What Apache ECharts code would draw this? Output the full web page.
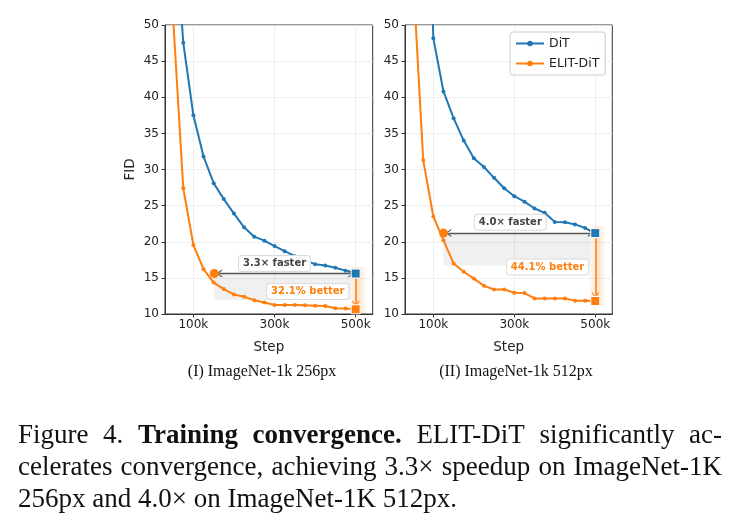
<!DOCTYPE html>
<html lang="en">
<head>
    <meta charset="UTF-8">
    <title>Training convergence</title>
    <script type="text/javascript" src="https://cdn.jsdelivr.net/npm/echarts@6/dist/echarts.min.js"></script>
    <style>
        html, body { margin: 0; padding: 0; background: #fff; }
    </style>
</head>
<body>
<div id="chart" style="width: 740px;height:522px;"></div>
<script>
    // training steps shared by every curve
    var steps = [50000, 75000, 100000, 125000, 150000, 175000, 200000, 225000, 250000, 275000,
        300000, 325000, 350000, 375000, 400000, 425000, 450000, 475000, 500000];
    // (I) ImageNet-1k 256px
    var dit256 = [68, 47.55, 37.5, 31.8, 28.1, 25.9, 23.9, 22.0, 20.7, 20.15,
        19.4, 18.7, 18.0, 17.4, 16.9, 16.7, 16.4, 16.0, 15.6];
    var elit256 = [51, 27.4, 19.55, 16.2, 14.35, 13.45, 12.7, 12.4, 11.9, 11.6,
        11.25, 11.25, 11.25, 11.2, 11.15, 11.1, 10.8, 10.75, 10.65];
    // (II) ImageNet-1k 512px
    var dit512 = [null, 92, 48.15, 40.8, 37.1, 34.0, 31.55, 30.35, 28.85, 27.4,
        26.3, 25.55, 24.6, 24.0, 22.75, 22.7, 22.4, 21.9, 21.2];
    var elit512 = [56.7, 31.3, 23.5, 20.2, 17.0, 15.85, 14.9, 13.9, 13.4, 13.4,
        12.95, 12.9, 12.15, 12.15, 12.15, 12.15, 11.85, 11.85, 11.8];

    var xTicks = [100000, 300000, 500000];
    var speedLabels = ['3.3\u00d7 faster', '4.0\u00d7 faster'];
    var gainLabels = ['32.1% better', '44.1% better'];
    var matchStep = [151500, 125000];   // step where ELIT-DiT reaches DiT's final FID
    var subTitles = ['(I) ImageNet-1k 256px', '(II) ImageNet-1k 512px'];

    var BLUE = '#1f77b4';
    var ORANGE = '#ff7f0e';
    var FONT = '"DejaVu Sans", sans-serif';
    var SERIF = '"Liberation Serif", "Times New Roman", serif';
    var CAP = '27px ' + SERIF;

    // annotation layout per panel (label anchors, shaded band bottom)
    var annot = [
        {speedAt: [300000, 17.0], gainAt: [382000, 13.1], shadeBottom: 11.94},
        {speedAt: [290000, 22.7], gainAt: [382000, 16.5], shadeBottom: 16.7}
    ];

    function zip(xs, ys) {
        return xs.map(function (x, i) { return [x, ys[i]]; });
    }

    var chevron = 'path://M0,10 L5,0 L10,10 L8.4,10 L5,3.2 L1.6,10 Z';

    function panelSeries(i, dit, elit) {
        var last = steps.length - 1;
        var yTop = dit[last], yBest = elit[last];
        var end = steps[last];
        var a = annot[i];
        var band = new echarts.graphic.LinearGradient(0, 0, 1, 0, [
            {offset: 0, color: 'rgba(255,127,14,0.05)'},
            {offset: 0.5, color: 'rgba(255,127,14,0.22)'},
            {offset: 1, color: 'rgba(255,127,14,0.05)'}
        ]);
        var list = [];
        list.push({
            type: 'line', name: 'DiT', xAxisIndex: i, yAxisIndex: i,
            data: zip(steps, dit), symbol: 'circle', symbolSize: 4, showSymbol: true,
            lineStyle: {width: 2, color: BLUE}, itemStyle: {color: BLUE}, z: 3
        });
        list.push({
            type: 'line', name: 'ELIT-DiT', xAxisIndex: i, yAxisIndex: i,
            data: zip(steps, elit), symbol: 'circle', symbolSize: 4, showSymbol: true,
            lineStyle: {width: 2, color: ORANGE}, itemStyle: {color: ORANGE}, z: 3
        });
        // shaded regions, arrows and end markers
        list.push({
            type: 'scatter', xAxisIndex: i, yAxisIndex: i, z: 5, silent: true,
            data: [
                {value: [matchStep[i], yTop], symbol: 'circle', symbolSize: 9,
                    itemStyle: {color: ORANGE, opacity: 1}},
                {value: [end, yTop], symbol: 'rect', symbolSize: 9,
                    itemStyle: {color: BLUE, borderColor: '#fff', borderWidth: 1, opacity: 1}},
                {value: [end, yBest], symbol: 'rect', symbolSize: 9,
                    itemStyle: {color: ORANGE, borderColor: '#fff', borderWidth: 1, opacity: 1}}
            ],
            markArea: {
                silent: true,
                data: [
                    [{coord: [matchStep[i], yTop], itemStyle: {color: 'rgba(0,0,0,0.06)'}},
                        {coord: [488000, a.shadeBottom]}],
                    [{coord: [486000, yTop + 0.9], itemStyle: {color: band}},
                        {coord: [524000, yBest - 0.7]}]
                ]
            },
            markLine: {
                silent: true,
                label: {show: false},
                animation: false,
                data: [
                    [{coord: [matchStep[i] + 12000, yTop], symbol: chevron, symbolSize: [8, 6],
                        lineStyle: {color: '#555', width: 1.3, type: 'solid'}},
                        {coord: [end - 11000, yTop], symbol: chevron, symbolSize: [8, 6]}],
                    [{coord: [end, yTop - 0.7], symbol: 'none',
                        lineStyle: {color: ORANGE, width: 1.5, type: 'solid'}},
                        {coord: [end, yBest + 0.75], symbol: chevron, symbolSize: [8, 6]}]
                ]
            }
        });
        // text boxes
        var boxLabel = {
            show: true, position: 'inside', fontFamily: FONT, fontWeight: 'bold', fontSize: 10,
            backgroundColor: 'rgba(255,255,255,0.9)', borderColor: '#dcdcdc', borderWidth: 1,
            borderRadius: 3, padding: [3, 4, 2, 4]
        };
        list.push({
            type: 'scatter', xAxisIndex: i, yAxisIndex: i, z: 6, silent: true,
            symbolSize: 1, itemStyle: {color: 'rgba(0,0,0,0)', opacity: 1},
            data: [
                {value: a.speedAt, label: Object.assign({}, boxLabel, {formatter: speedLabels[i], color: '#444'})},
                {value: a.gainAt, label: Object.assign({}, boxLabel, {formatter: gainLabels[i], color: ORANGE})}
            ]
        });
        return list;
    }

    function xAxis(i) {
        return {
            type: 'value', gridIndex: i, min: 30000, max: 542000,
            name: 'Step', nameLocation: 'middle', nameGap: 26,
            nameTextStyle: {fontFamily: FONT, fontSize: 13.5, color: '#222'},
            axisLine: {show: true, lineStyle: {color: '#333', width: 1}},
            axisTick: {show: true, length: 3.5, customValues: xTicks, lineStyle: {color: '#333'}},
            axisLabel: {
                customValues: xTicks, margin: 5, fontFamily: FONT, fontSize: 12, color: '#222',
                formatter: function (v) { return (v / 1000) + 'k'; }
            },
            splitLine: {show: true, lineStyle: {color: '#ebebeb', width: 0.8}}
        };
    }

    function yAxis(i) {
        return {
            type: 'value', gridIndex: i, min: 10, max: 50, interval: 5,
            name: i === 0 ? 'FID' : '', nameLocation: 'middle', nameGap: 28,
            nameTextStyle: {fontFamily: FONT, fontSize: 13.5, color: '#222'},
            axisLine: {show: true, lineStyle: {color: '#333', width: 1}},
            axisTick: {show: true, length: 3.5, lineStyle: {color: '#333'}},
            axisLabel: {margin: 6, fontFamily: FONT, fontSize: 12, color: '#222'},
            splitLine: {show: true, lineStyle: {color: '#ebebeb', width: 0.8}}
        };
    }

    // justified caption words, laid out with canvas text metrics
    var measure = document.createElement('canvas').getContext('2d');
    function captionLine(words, y, x0, x1, justify) {
        var widths = words.map(function (w) {
            measure.font = (w.bold ? 'bold ' : '') + CAP;
            return measure.measureText(w.t).width;
        });
        var total = widths.reduce(function (s, v) { return s + v; }, 0);
        measure.font = CAP;
        var gap = justify ? (x1 - x0 - total) / (words.length - 1) : measure.measureText(' ').width;
        var x = x0, out = [];
        words.forEach(function (w, k) {
            out.push({
                type: 'text', x: x, y: y,
                style: {
                    text: w.t, fill: '#111', textVerticalAlign: 'middle',
                    font: (w.bold ? 'bold ' : '') + CAP
                }
            });
            x += widths[k] + gap;
        });
        return out;
    }
    function words(str, bold) {
        return str.split(' ').map(function (t) { return {t: t, bold: !!bold}; });
    }

    var graphics = [];
    [262, 516].forEach(function (cx, i) {
        graphics.push({
            type: 'text', x: cx, y: 372,
            style: {text: subTitles[i], fill: '#111', textAlign: 'center', textVerticalAlign: 'middle',
                font: '16px ' + SERIF}
        });
    });
    graphics = graphics.concat(
        captionLine(words('Figure 4.').concat(words('Training convergence.', true), words('ELIT-DiT significantly ac-')),
            436, 18, 722, true),
        captionLine(words('celerates convergence, achieving 3.3\u00d7 speedup on ImageNet-1K'), 468, 18, 722, true),
        captionLine(words('256px and 4.0\u00d7 on ImageNet-1K 512px.'), 500, 18, 722, false)
    );

    var option = {
        animation: false,
        backgroundColor: '#fff',
        grid: [
            {left: 165, top: 25, width: 207.7, height: 289, show: true, borderColor: '#333', borderWidth: 1},
            {left: 405, top: 25, width: 207.3, height: 289, show: true, borderColor: '#333', borderWidth: 1}
        ],
        legend: {
            data: ['DiT', 'ELIT-DiT'],
            orient: 'vertical', left: 510, top: 32, z: 10,
            itemWidth: 28, itemHeight: 7, itemGap: 7, padding: [5, 6, 5, 5],
            backgroundColor: 'rgba(255,255,255,0.85)', borderColor: '#ccc', borderWidth: 1, borderRadius: 3,
            textStyle: {fontFamily: FONT, fontSize: 12.5, color: '#222'}
        },
        xAxis: [xAxis(0), xAxis(1)],
        yAxis: [yAxis(0), yAxis(1)],
        series: panelSeries(0, dit256, elit256).concat(panelSeries(1, dit512, elit512)),
        graphic: graphics
    };

    var myChart = echarts.init(document.getElementById('chart'));
    myChart.setOption(option);
</script>
</body>
</html>
